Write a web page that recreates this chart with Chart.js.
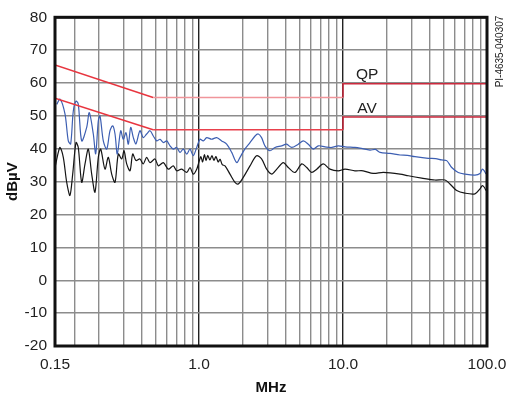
<!DOCTYPE html>
<html>
<head>
<meta charset="utf-8">
<script src="https://cdn.jsdelivr.net/npm/chart.js@4.4.1/dist/chart.umd.min.js"></script>
<style>
  html, body { margin: 0; padding: 0; background: #fff; }
  #wrap { width: 516px; height: 393px; position: relative; }
</style>
</head>
<body>
<div id="wrap"><canvas id="emi"></canvas></div>
<script>
// frequency grid (MHz) and the labels printed under it
const freqTicks = [0.1, 0.138, 0.2, 0.3, 0.4, 0.5, 0.6, 0.7, 0.8, 0.9,
  1, 2, 3, 4, 5, 6, 7, 8, 9, 10, 20, 30, 40, 50, 60, 70, 80, 90, 100];
const freqLabels = { 0.1: '0.15', 1: '1.0', 10: '10.0', 100: '100.0' };

// limit lines (dBuV)
const qpFreq = [0.1, 0.48, 10, 10, 100];
const qpLevel = [65.5, 55.6, 55.6, 59.8, 59.8];
const avFreq = [0.1, 0.48, 10, 10, 100];
const avLevel = [55.4, 45.8, 45.8, 49.7, 49.7];

// measured traces (blue = peak scan, black = average scan)
const blueFreq = [0.1028, 0.1083, 0.1173, 0.1237, 0.1285, 0.134, 0.1399, 0.1451, 0.1532, 0.166,
  0.173, 0.1845, 0.1917, 0.1999, 0.2054, 0.2165, 0.2286, 0.241, 0.2516, 0.2611,
  0.2708, 0.286, 0.298, 0.311, 0.323, 0.3356, 0.35, 0.365, 0.389, 0.410,
  0.433, 0.457, 0.4816, 0.508, 0.536, 0.565, 0.597, 0.629, 0.663, 0.700,
  0.738, 0.778, 0.822, 0.866, 0.912, 0.964, 1.016, 1.071, 1.131, 1.225,
  1.327, 1.438, 1.556, 1.687, 1.827, 1.927, 2.08, 2.26, 2.45, 2.58,
  2.72, 2.87, 3.11, 3.37, 3.75, 4.06, 4.40, 4.89, 5.30, 5.74,
  6.22, 6.74, 7.50, 8.35, 9.27, 10.33, 12.1, 13.1, 15.4, 16.8,
  18.1, 21.2, 24.9, 28.0, 31.6, 39.1, 44.0, 48.4, 52.5, 56.9,
  63.1, 70.3, 82.5, 89.4, 92.7, 95.7, 98.4];
const blueLevel = [53.5, 55.1, 50.6, 42.4, 41.5, 51.5, 54.5, 53.6, 42.4, 46.5,
  51.0, 44.5, 38.5, 48.5, 50.0, 42.4, 39.9, 45.5, 47.0, 44.5,
  38.4, 45.5, 42.9, 44.9, 41.4, 46.5, 43.4, 41.5, 45.5, 43.4,
  44.5, 45.5, 43.9, 42.4, 42.9, 41.9, 42.4, 40.9, 39.9, 40.4,
  38.9, 39.9, 38.4, 39.9, 37.9, 40.4, 42.9, 42.4, 43.4, 42.9,
  43.4, 42.4, 41.4, 38.9, 35.8, 37.4, 39.9, 41.9, 43.9, 44.5,
  43.4, 40.9, 39.4, 40.4, 40.9, 41.4, 40.4, 41.4, 42.4, 41.4,
  39.9, 40.9, 40.6, 40.4, 40.9, 40.6, 40.4, 40.2, 39.6, 39.8,
  38.9, 38.6, 38.1, 38.0, 37.6, 37.1, 37.0, 36.6, 36.4, 34.3,
  32.8, 32.3, 32.0, 32.5, 33.8, 33.3, 32.3];

const blackFreq = [0.1, 0.1054, 0.1083, 0.1142, 0.1206, 0.127, 0.1327, 0.1399, 0.1451, 0.1532,
  0.1616, 0.1703, 0.1798, 0.1896, 0.1999, 0.2077, 0.2224, 0.2345, 0.2475, 0.2611,
  0.2753, 0.2905, 0.3015, 0.3146, 0.332, 0.3465, 0.365, 0.389, 0.410, 0.433,
  0.457, 0.495, 0.522, 0.565, 0.612, 0.663, 0.700, 0.758, 0.822, 0.866,
  0.912, 0.964, 1.0, 1.03, 1.06, 1.09, 1.12, 1.15, 1.19, 1.23,
  1.27, 1.31, 1.36, 1.40, 1.45, 1.516, 1.641, 1.778, 1.875, 2.03,
  2.26, 2.51, 2.72, 2.95, 3.20, 3.47, 3.85, 4.17, 4.64, 5.17,
  5.6, 6.06, 6.57, 7.3, 8.12, 9.27, 10.33, 12.1, 13.8, 16.2,
  19.1, 24.9, 28.4, 35.2, 43.5, 51.1, 55.3, 61.6, 70.3, 82.5,
  89.4, 92.7, 95.7, 98.4];
const blackLevel = [34.3, 38.9, 40.4, 37.4, 29.8, 25.8, 32.3, 41.9, 40.4, 29.8,
  35.4, 39.9, 32.3, 26.8, 37.4, 39.9, 33.8, 37.4, 32.3, 29.8,
  38.4, 36.9, 39.4, 35.4, 33.3, 38.4, 36.4, 36.9, 35.4, 37.4,
  35.8, 36.9, 34.8, 35.8, 33.8, 34.8, 33.3, 33.8, 32.8, 34.3,
  32.3, 33.8, 36.0, 37.6, 36.0, 38.2, 36.4, 38.0, 36.6, 37.9,
  36.5, 37.6, 36.0, 36.8, 35.2, 34.8, 32.3, 29.8, 29.3, 31.3,
  34.8, 37.9, 36.9, 33.8, 32.3, 33.8, 35.8, 34.3, 32.8, 35.4,
  34.3, 32.8, 33.8, 35.4, 33.8, 33.3, 33.8, 33.3, 33.3, 32.5,
  32.8, 32.3, 31.8, 31.1, 30.5, 30.5, 29.3, 27.3, 26.5, 26.3,
  27.8, 28.8, 28.3, 27.3];

const pts = (xs, ys) => xs.map((x, i) => ({ x: x, y: ys[i] }));

const FONT = "'Liberation Sans', Arial, Helvetica, sans-serif";

// segment colours of the limit lines: slope / flat part / above 10 MHz
function limitColor(idx, flatColor) {
  if (idx === 0) return '#e8353f';
  if (idx === 1) return flatColor;
  return '#cc2a3e';
}

const extras = {
  id: 'extras',
  afterDraw(chart) {
    const ctx = chart.ctx;
    const a = chart.chartArea;
    const xs = chart.scales.x, ys = chart.scales.y;
    ctx.save();
    // frame
    ctx.strokeStyle = '#111';
    ctx.lineWidth = 3;
    ctx.strokeRect(a.left, a.top, a.right - a.left, a.bottom - a.top);
    // limit names
    ctx.fillStyle = '#222';
    ctx.font = '15.5px ' + FONT;
    ctx.textAlign = 'center';
    ctx.textBaseline = 'middle';
    ctx.fillText('QP', xs.getPixelForValue(14.7), ys.getPixelForValue(62.4));
    ctx.fillText('AV', xs.getPixelForValue(14.7), ys.getPixelForValue(52.3));
    // drawing number
    ctx.translate(500, 51.5);
    ctx.rotate(-Math.PI / 2);
    ctx.font = '10px ' + FONT;
    ctx.fillText('PI-4635-040307', 0, 0);
    ctx.restore();
  }
};

const emi = document.getElementById('emi');
const emiChart = new Chart(emi, {
  type: 'line',
  data: {
    datasets: [
      {
        label: 'QP',
        data: pts(qpFreq, qpLevel),
        borderWidth: 1.5,
        segment: {
          borderColor: c => limitColor(c.p0DataIndex, '#f0959a')
        },
        pointRadius: 0,
        tension: 0
      },
      {
        label: 'AV',
        data: pts(avFreq, avLevel),
        borderWidth: 1.5,
        segment: {
          borderColor: c => limitColor(c.p0DataIndex, '#e8404c')
        },
        pointRadius: 0,
        tension: 0
      },
      {
        label: 'Peak',
        data: pts(blueFreq, blueLevel),
        borderColor: '#3d5fb2',
        borderWidth: 1.2,
        pointRadius: 0,
        tension: 0.3
      },
      {
        label: 'Average',
        data: pts(blackFreq, blackLevel),
        borderColor: '#151515',
        borderWidth: 1.2,
        pointRadius: 0,
        tension: 0.3
      }
    ]
  },
  options: {
    responsive: true,
    maintainAspectRatio: false,
    animation: false,
    layout: { padding: { top: 16, right: 29, bottom: 0, left: 0 } },
    scales: {
      x: {
        type: 'logarithmic',
        min: 0.1,
        max: 100,
        afterBuildTicks: s => { s.ticks = freqTicks.map(v => ({ value: v })); },
        afterFit: s => { s.height = 47; },
        border: { display: false },
        grid: {
          drawTicks: false,
          lineWidth: 1.4,
          color: c => (c.tick && (c.tick.value === 1 || c.tick.value === 10) ? '#222' : '#8c8c8c')
        },
        ticks: {
          autoSkip: false,
          maxRotation: 0,
          padding: 9,
          color: '#222',
          font: { family: FONT, size: 15.5 },
          callback: v => freqLabels[v] || ''
        },
        title: {
          display: true,
          text: 'MHz',
          color: '#111',
          font: { family: FONT, size: 15, weight: 'bold', lineHeight: 1 },
          padding: { top: 0, bottom: -2 }
        }
      },
      y: {
        min: -20,
        max: 80,
        afterFit: s => { s.width = 55; },
        border: { display: false },
        grid: { drawTicks: false, lineWidth: 1.4, color: '#8c8c8c' },
        ticks: {
          stepSize: 10,
          padding: 8,
          color: '#222',
          font: { family: FONT, size: 15.5 }
        },
        title: {
          display: true,
          text: 'dBµV',
          color: '#111',
          font: { family: FONT, size: 15, weight: 'bold', lineHeight: 1 },
          padding: { top: 5.5, bottom: 0 }
        }
      }
    },
    plugins: {
      legend: { display: false },
      tooltip: { enabled: false }
    }
  },
  plugins: [extras]
});
</script>
</body>
</html>
